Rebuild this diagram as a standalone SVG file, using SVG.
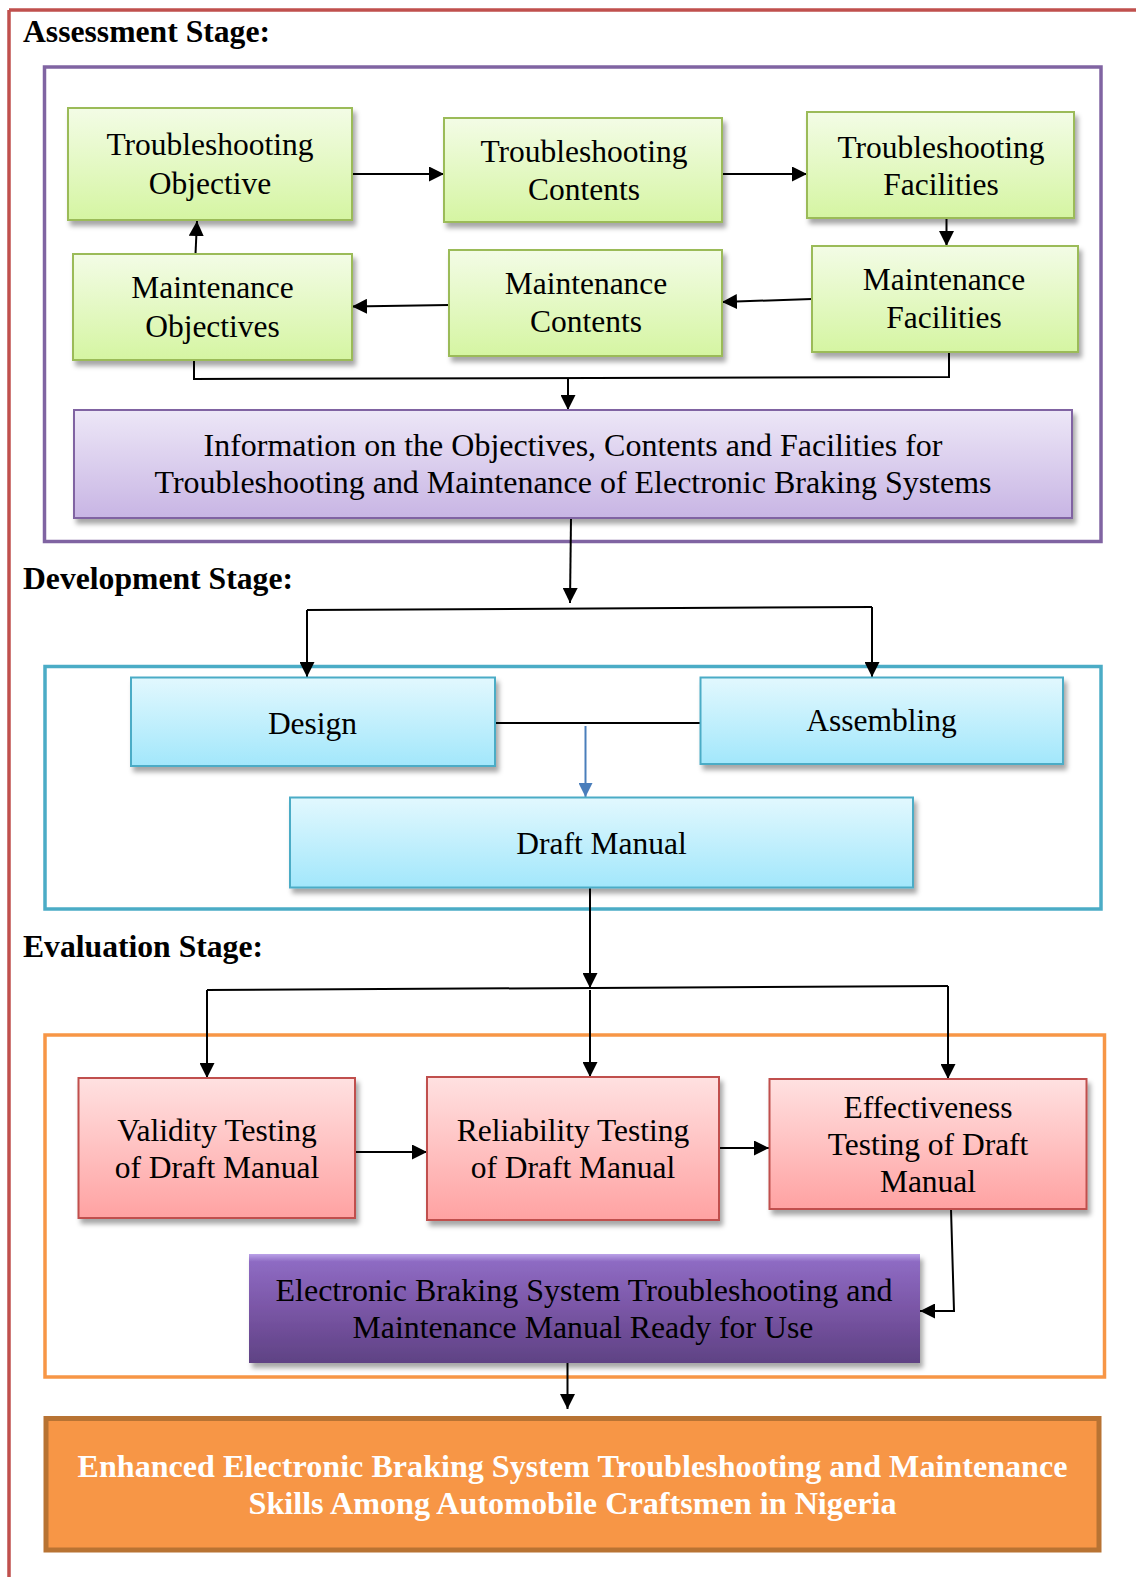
<svg xmlns="http://www.w3.org/2000/svg" width="1136" height="1577" viewBox="0 0 1136 1577">
<defs>
<style>
.t{font-family:"Liberation Serif","Times New Roman",serif;font-size:31.5px;fill:#000;text-anchor:middle}
.h{font-family:"Liberation Serif","Times New Roman",serif;font-size:32px;font-weight:bold;fill:#000}
.fin{font-family:"Liberation Serif","Times New Roman",serif;font-size:31px;font-weight:bold;fill:#fff;text-anchor:middle}
.c{fill:none;stroke:#000;stroke-width:2}
.ca{fill:none;stroke:#000;stroke-width:2;marker-end:url(#ah)}
.green{fill:url(#gG);stroke:#9bbb59;stroke-width:2;filter:url(#sh)}
.blue{fill:url(#gB);stroke:#4bacc6;stroke-width:2;filter:url(#sh)}
.pink{fill:url(#gP);stroke:#c0504d;stroke-width:2;filter:url(#sh)}
.lav{fill:url(#gL);stroke:#8064a2;stroke-width:2;filter:url(#sh)}
</style>
<linearGradient id="gG" x1="0" y1="0" x2="0" y2="1"><stop offset="0" stop-color="#f3fce6"/><stop offset="1" stop-color="#d5f5a2"/></linearGradient>
<linearGradient id="gB" x1="0" y1="0" x2="0" y2="1"><stop offset="0" stop-color="#e2f8fe"/><stop offset="1" stop-color="#a2e7fb"/></linearGradient>
<linearGradient id="gP" x1="0" y1="0" x2="0" y2="1"><stop offset="0" stop-color="#ffe1e1"/><stop offset="1" stop-color="#ffa2a2"/></linearGradient>
<linearGradient id="gL" x1="0" y1="0" x2="0" y2="1"><stop offset="0" stop-color="#ede7f7"/><stop offset="1" stop-color="#c8b5e4"/></linearGradient>
<linearGradient id="gD" x1="0" y1="0" x2="0" y2="1"><stop offset="0" stop-color="#bba2e8"/><stop offset="0.07" stop-color="#8e6bc3"/><stop offset="0.5" stop-color="#7a56a6"/><stop offset="1" stop-color="#5f4284"/></linearGradient>
<filter id="sh" x="-5%" y="-10%" width="115%" height="130%"><feDropShadow dx="3" dy="5" stdDeviation="2.5" flood-color="#000" flood-opacity="0.35"/></filter>
<marker id="ah" viewBox="0 0 15 15" markerUnits="userSpaceOnUse" markerWidth="15" markerHeight="15" refX="15" refY="7.5" orient="auto"><path d="M0,0 L15,7.5 L0,15 z" fill="#000"/></marker>
<marker id="ahb" viewBox="0 0 14 14" markerUnits="userSpaceOnUse" markerWidth="14" markerHeight="14" refX="14" refY="7" orient="auto"><path d="M0,0 L14,7 L0,14 z" fill="#4a7ebb"/></marker>
</defs>
<rect width="1136" height="1577" fill="#fff"/>
<g id="frame">
<path d="M9,10 L1136,10 M9,10 L9,1577" fill="none" stroke="#c0504d" stroke-width="3.5"/>
</g>
<g id="stage-labels">
<text class="h" x="23" y="42" textLength="247" lengthAdjust="spacingAndGlyphs">Assessment Stage:</text>
<text class="h" x="23" y="589" textLength="270" lengthAdjust="spacingAndGlyphs">Development Stage:</text>
<text class="h" x="23" y="957" textLength="240" lengthAdjust="spacingAndGlyphs">Evaluation Stage:</text>
</g>
<g id="stage-boxes">
<rect id="assessment-box" x="44.5" y="67" width="1056.5" height="474.5" fill="none" stroke="#8064a2" stroke-width="3.5"/>
<rect id="development-box" x="45" y="666.5" width="1056" height="242.5" fill="none" stroke="#4bacc6" stroke-width="3.5"/>
<rect id="evaluation-box" x="45" y="1035" width="1059.5" height="342" fill="none" stroke="#f79646" stroke-width="3.5"/>
</g>
<g id="connectors">
<path class="ca" d="M352,174 L444,174"/>
<path class="ca" d="M722,174 L807,174"/>
<path class="ca" d="M946.5,218 L946.5,246"/>
<path class="ca" d="M812,299 L722,302"/>
<path class="ca" d="M449,305 L352,306.5"/>
<path class="ca" d="M195.5,254 L197,221"/>
<path class="c" d="M194,360 L194,379 L949,377 L949,352"/>
<path class="ca" d="M568,378 L568,410"/>
<path class="ca" d="M571,518 L570,603"/>
<path class="c" d="M307,610 L872,607"/>
<path class="ca" d="M307,610 L307,677"/>
<path class="ca" d="M872,607 L872,677"/>
<path class="c" d="M495,723 L700,723"/>
<path d="M585.5,726 L585.5,797" fill="none" stroke="#4a7ebb" stroke-width="2" marker-end="url(#ahb)"/>
<path class="ca" d="M590,888 L590,988"/>
<path class="c" d="M207,990 L948,986"/>
<path class="ca" d="M207,990 L207,1078"/>
<path class="ca" d="M590,990 L590,1077"/>
<path class="ca" d="M948,986 L948,1079"/>
<path class="ca" d="M355,1152 L427,1152"/>
<path class="ca" d="M719,1148 L769,1148"/>
<path class="ca" d="M951,1209 L954,1311 L920,1311"/>
<path class="ca" d="M567.5,1363 L567.5,1409"/>
</g>
<g id="troubleshooting-objective">
<rect class="green" x="68" y="108" width="284" height="112"/>
<text class="t" x="210" y="155">Troubleshooting</text>
<text class="t" x="210" y="194">Objective</text>
</g>
<g id="troubleshooting-contents">
<rect class="green" x="444" y="118" width="278" height="104"/>
<text class="t" x="584" y="162">Troubleshooting</text>
<text class="t" x="584" y="200">Contents</text>
</g>
<g id="troubleshooting-facilities">
<rect class="green" x="807" y="112" width="267" height="106"/>
<text class="t" x="941" y="158">Troubleshooting</text>
<text class="t" x="941" y="195">Facilities</text>
</g>
<g id="maintenance-objectives">
<rect class="green" x="73" y="254" width="279" height="106"/>
<text class="t" x="212.5" y="298">Maintenance</text>
<text class="t" x="212.5" y="337">Objectives</text>
</g>
<g id="maintenance-contents">
<rect class="green" x="449" y="250" width="273" height="106"/>
<text class="t" x="586" y="294">Maintenance</text>
<text class="t" x="586" y="332">Contents</text>
</g>
<g id="maintenance-facilities">
<rect class="green" x="812" y="246" width="266" height="106"/>
<text class="t" x="944" y="290">Maintenance</text>
<text class="t" x="944" y="328">Facilities</text>
</g>
<g id="information">
<rect class="lav" x="74" y="410" width="998" height="108"/>
<text class="t" x="573" y="456" textLength="739" lengthAdjust="spacingAndGlyphs">Information on the Objectives, Contents and Facilities for</text>
<text class="t" x="573" y="493" textLength="837" lengthAdjust="spacingAndGlyphs">Troubleshooting and Maintenance of Electronic Braking Systems</text>
</g>
<g id="design">
<rect class="blue" x="131" y="677.5" width="364" height="88.5"/>
<text class="t" x="312.5" y="734">Design</text>
</g>
<g id="assembling">
<rect class="blue" x="700.5" y="677.5" width="362.5" height="86.5"/>
<text class="t" x="881.5" y="731">Assembling</text>
</g>
<g id="draft-manual">
<rect class="blue" x="290" y="797.5" width="623" height="90"/>
<text class="t" x="601.5" y="854">Draft Manual</text>
</g>
<g id="validity-testing">
<rect class="pink" x="78.5" y="1078" width="276.5" height="140"/>
<text class="t" x="217" y="1141">Validity Testing</text>
<text class="t" x="217" y="1178">of Draft Manual</text>
</g>
<g id="reliability-testing">
<rect class="pink" x="427" y="1077" width="292" height="143"/>
<text class="t" x="573" y="1141">Reliability Testing</text>
<text class="t" x="573" y="1178">of Draft Manual</text>
</g>
<g id="effectiveness-testing">
<rect class="pink" x="769.5" y="1079" width="317" height="130"/>
<text class="t" x="928" y="1118">Effectiveness</text>
<text class="t" x="928" y="1155">Testing of Draft</text>
<text class="t" x="928" y="1192">Manual</text>
</g>
<g id="manual-ready">
<rect x="249" y="1254" width="671" height="109" fill="url(#gD)" filter="url(#sh)"/>
<text class="t" x="584" y="1301" fill="#111" textLength="617" lengthAdjust="spacingAndGlyphs">Electronic Braking System Troubleshooting and</text>
<text class="t" x="583" y="1338" fill="#111" textLength="461" lengthAdjust="spacingAndGlyphs">Maintenance Manual Ready for Use</text>
</g>
<g id="enhanced-skills">
<rect x="46" y="1418.5" width="1053" height="131.5" fill="#f79646" stroke="#b87333" stroke-width="5"/>
<text class="fin" x="572.5" y="1477" textLength="990" lengthAdjust="spacingAndGlyphs">Enhanced Electronic Braking System Troubleshooting and Maintenance</text>
<text class="fin" x="572.5" y="1514" textLength="648" lengthAdjust="spacingAndGlyphs">Skills Among Automobile Craftsmen in Nigeria</text>
</g>
</svg>
